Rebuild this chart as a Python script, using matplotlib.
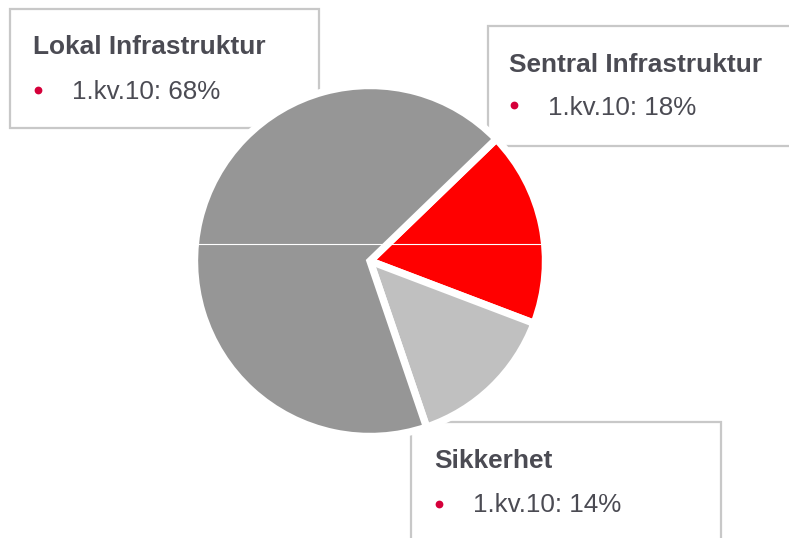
import matplotlib
matplotlib.use("Agg")
import matplotlib.pyplot as plt
from matplotlib.patches import Rectangle

plt.rcParams['font.family'] = ['Liberation Sans', 'DejaVu Sans']

# Data
categories = ["Sentral Infrastruktur", "Sikkerhet", "Lokal Infrastruktur"]
values = [18, 14, 68]
colors = ["#ff0000", "#c0c0c0", "#969696"]
period = "1.kv.10"

W, H = 789, 538
fig = plt.figure(figsize=(W / 100, H / 100), dpi=100)
ax = fig.add_axes([0, 0, 1, 1])

def Y(y):
    return H - y

TXT = "#4b4b53"
BULLET = "#d5003a"
BORDER = "#c8c8c8"

# label boxes (left, top, right, bottom) in pixel coords
boxes = {
    "Lokal Infrastruktur": (10.5, 8.5, 319, 127.5),
    "Sentral Infrastruktur": (488, 25.5, 805, 145.5),
    "Sikkerhet": (411.5, 421.5, 721.5, 560),
}
text_pos = {
    # title x, title baseline, bullet x, bullet y, value x, value baseline
    "Lokal Infrastruktur": (33, 54.5, 38, 89.5, 72, 99),
    "Sentral Infrastruktur": (509.5, 72.5, 514, 105, 548.5, 115),
    "Sikkerhet": (434, 468, 439, 504, 473, 512),
}

for cat, (l, t, r, b) in boxes.items():
    ax.add_patch(Rectangle((l, Y(b)), r - l, b - t, facecolor="white",
                           edgecolor=BORDER, linewidth=1.6, zorder=1))

# pie
cx, cy, R = 370, 261, 175.5
wedges, _ = ax.pie(values, colors=colors, startangle=44, counterclock=False,
                   center=(cx, Y(cy)), radius=R,
                   wedgeprops=dict(edgecolor="white", linewidth=5.3, joinstyle="miter"),
                   frame=True)
for w in wedges:
    w.set_zorder(2)

# thin rendering seam across the pie
ax.plot([cx - R, cx + R], [Y(244), Y(244)], color="white", linewidth=0.8, zorder=3)

for cat, v in zip(categories, values):
    tx, ty, bx, by, vx, vy = text_pos[cat]
    ax.text(tx, Y(ty), cat, fontsize=18.9, fontweight="bold", color=TXT,
            ha="left", va="baseline", zorder=4)
    ax.plot([bx], [Y(by)], marker="o", markersize=5.6, color=BULLET,
            markeredgewidth=0, zorder=4)
    ax.text(vx, Y(vy), f"{period}: {v}%", fontsize=18.7, color=TXT,
            ha="left", va="baseline", zorder=4)

ax.set_xlim(0, W)
ax.set_ylim(0, H)
ax.set_aspect("equal")
ax.axis("off")

fig.savefig("out.png", dpi=100, facecolor="white")
